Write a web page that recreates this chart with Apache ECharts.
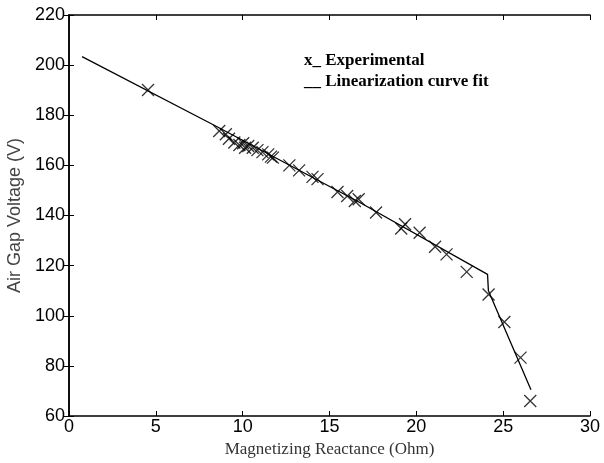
<!DOCTYPE html>
<html>
<head>
<meta charset="utf-8">
<script src="https://cdn.jsdelivr.net/npm/echarts@6/dist/echarts.min.js"></script>
<style>
  html, body { margin: 0; padding: 0; background: #fff; }
  #chart { width: 604px; height: 463px; }
</style>
</head>
<body>
<div id="chart"></div>
<script>
var expX = [4.55, 8.65, 9.03, 9.21, 9.52, 9.81, 10.03, 10.14, 10.32, 10.58, 10.85, 11.14, 11.47, 11.63,
  11.74, 12.69, 13.25, 14.02, 14.31, 15.46, 16.02, 16.46, 16.68, 17.68, 19.13, 19.35, 20.19, 21.08,
  21.74, 22.9, 24.16, 25.07, 26.0, 26.56];
var expY = [190.1, 173.7, 172.4, 170.6, 169.1, 168.1, 168.8, 167.0, 167.7, 167.0, 166.1, 165.3, 164.4, 163.5,
  163.1, 160.0, 158.0, 155.4, 154.5, 149.4, 147.8, 145.8, 146.5, 141.2, 134.8, 136.5, 133.1, 127.5,
  124.5, 117.5, 108.5, 97.5, 83.3, 66.0];

// piecewise linear fit
var fitX = [0.75, 8.5, 16.8, 24.1, 24.15, 26.6];
var fitY = [203.4, 175.5, 145.0, 116.5, 110.0, 70.5];

var xTicks = [0, 5, 10, 15, 20, 25, 30];
var yTicks = [60, 80, 100, 120, 140, 160, 180, 200, 220];

function pairs(xs, ys) {
  return xs.map(function (x, i) { return [x, ys[i]]; });
}

var chart = echarts.init(document.getElementById('chart'));

var tickStyle = { show: true, inside: true, length: 5, lineStyle: { color: '#000', width: 1 } };
var lineStyle = { show: true, lineStyle: { color: '#000', width: 1.5 } };

chart.setOption({
  animation: false,
  backgroundColor: '#fff',
  grid: { left: 69, right: 14, top: 15, bottom: 47, outerBoundsMode: 'none' },
  xAxis: [{
    type: 'value',
    min: xTicks[0], max: xTicks[xTicks.length - 1], interval: 5,
    name: 'Magnetizing Reactance (Ohm)',
    nameLocation: 'middle', nameGap: 23,
    nameTextStyle: { fontFamily: 'Liberation Serif', fontSize: 17, color: '#333' },
    axisLine: lineStyle,
    axisTick: tickStyle,
    splitLine: { show: false },
    axisLabel: { fontFamily: 'Liberation Sans', fontSize: 18, color: '#000', margin: 2 }
  }, {
    type: 'value', position: 'top',
    min: xTicks[0], max: xTicks[xTicks.length - 1], interval: 5,
    axisLine: lineStyle, axisTick: tickStyle,
    axisLabel: { show: false }, splitLine: { show: false }
  }],
  yAxis: [{
    type: 'value',
    min: yTicks[0], max: yTicks[yTicks.length - 1], interval: 20,
    name: 'Air Gap Voltage (V)',
    nameLocation: 'middle', nameGap: 44,
    nameTextStyle: { fontFamily: 'Liberation Sans', fontSize: 18, color: '#444' },
    axisLine: lineStyle,
    axisTick: tickStyle,
    splitLine: { show: false },
    axisLabel: { fontFamily: 'Liberation Sans', fontSize: 18, color: '#000', margin: 4 }
  }, {
    type: 'value', position: 'right',
    min: yTicks[0], max: yTicks[yTicks.length - 1], interval: 20,
    axisLine: lineStyle, axisTick: tickStyle,
    axisLabel: { show: false }, splitLine: { show: false }
  }],
  graphic: [{
    type: 'text', left: 304, top: 52,
    style: { text: 'x_ Experimental', font: 'bold 17px "Liberation Serif"', fill: '#000' }
  }, {
    type: 'text', left: 304, top: 73,
    style: { text: '__ Linearization curve fit', font: 'bold 17px "Liberation Serif"', fill: '#000' }
  }],
  series: [{
    name: 'Linearization curve fit',
    type: 'line',
    data: pairs(fitX, fitY),
    symbol: 'none',
    lineStyle: { color: '#000', width: 1.3 },
    z: 2
  }, {
    name: 'Experimental',
    type: 'scatter',
    data: pairs(expX, expY),
    symbol: 'path://M0,0L10,10M10,0L0,10',
    symbolSize: 12,
    itemStyle: { color: 'rgba(0,0,0,0)', borderColor: '#000', borderWidth: 1.3 },
    z: 3
  }]
});
</script>
</body>
</html>
